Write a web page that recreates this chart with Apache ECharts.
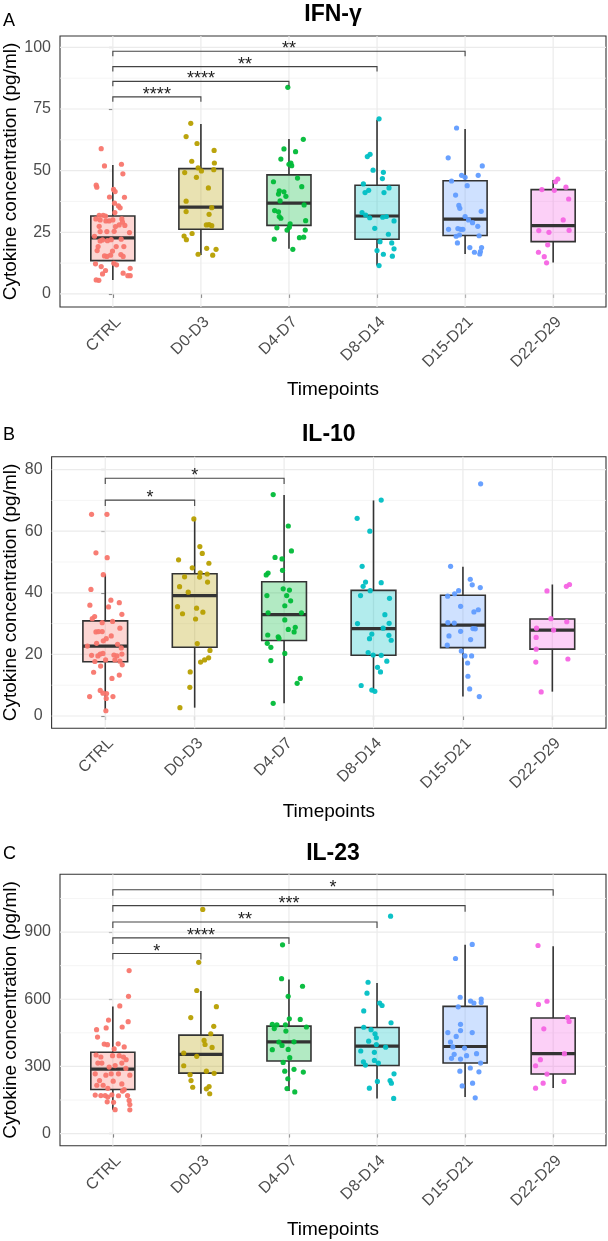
<!DOCTYPE html>
<html>
<head>
<meta charset="utf-8">
<script src="https://cdn.jsdelivr.net/npm/echarts@6/dist/echarts.min.js"></script>
<style>
  html, body { margin: 0; padding: 0; background: #fff; }
  #chart { width: 608px; height: 1241px; }
</style>
</head>
<body>
<div id="chart"></div>
<script>
// categories and colours (ggplot default hue palette)
const cats = ['CTRL', 'D0-D3', 'D4-D7', 'D8-D14', 'D15-D21', 'D22-D29']
const colors = ['#F8766D', '#B79F00', '#00BA38', '#00BFC4', '#619CFF', '#F564E3']

// ---- IFN-gamma ----
// box stats per group: [lower whisker, Q1, median, Q3, upper whisker]
const ifnBox = [
  [5.7, 13.5, 22.7, 31.6, 52.3],
  [15.8, 26.2, 35.2, 50.8, 68.9],
  [18.3, 27.8, 36.8, 48.3, 62.8],
  [11.5, 22.2, 31.6, 44.1, 70.6],
  [16.2, 23.7, 30.3, 45.9, 66.9],
  [12.7, 21.2, 27.7, 42.3, 46.2]
]
// jittered points per group: [jitter offset, value]
const ifnPts = [
  [[-0.132, 58.9], [-0.095, 51.9], [0.098, 52.6], [0.114, 48.7], [-0.189, 44.1], [-0.182, 43.3], [0.008, 42.4], [0.026, 41.5],
   [-0.038, 39.3], [0.132, 39.2], [0.019, 36.8], [0.064, 35.7], [0.083, 34.9], [0.023, 33.0], [-0.155, 31.9], [-0.110, 31.9],
   [-0.083, 31.6], [-0.193, 30.4], [-0.144, 30.0], [-0.079, 29.6], [-0.042, 29.6], [0, 30.0], [0.102, 30.4], [0.110, 29.1],
   [-0.155, 27.4], [0.030, 27.3], [0.072, 28.0], [0.136, 27.8], [-0.144, 25.3], [-0.068, 25.3], [0.015, 25.4], [0.189, 24.9],
   [-0.208, 23.4], [-0.117, 21.9], [-0.061, 21.6], [-0.019, 22.0], [0.095, 22.2], [-0.144, 21.5], [-0.167, 19.2], [0.038, 19.2],
   [0.125, 19.2], [-0.178, 17.6], [-0.004, 17.4], [0.091, 16.0], [-0.095, 15.4], [-0.068, 15.2], [0.117, 15.2], [-0.026, 15.7],
   [-0.197, 12.2], [0.011, 12.4], [-0.132, 11.1], [0.042, 11.8], [0.197, 10.4], [-0.083, 9.5], [-0.117, 8.1], [0.117, 8.4],
   [0.170, 7.4], [0.197, 7.4], [-0.189, 5.7], [-0.159, 5.5]],
  [[-0.115, 69.2], [-0.168, 63.8], [-0.044, 61.0], [0.150, 58.2], [-0.104, 53.8], [0.153, 53.1], [-0.032, 51.1], [0.006, 49.9],
   [0.146, 50.4], [-0.184, 49.2], [-0.051, 47.3], [0.085, 43.0], [-0.168, 37.6], [-0.168, 33.4], [0.123, 35.0], [0.093, 32.3],
   [0.062, 28.0], [0.093, 28.1], [0.123, 27.7], [-0.191, 23.5], [-0.100, 24.5], [-0.165, 22.0], [-0.032, 16.1], [0.066, 18.5],
   [0.172, 18.1], [0.134, 15.7]],
  [[-0.013, 83.8], [0.163, 62.7], [-0.057, 58.8], [0.075, 57.7], [-0.092, 54.7], [0.022, 53.1], [0, 52.6], [0.031, 52.0],
   [-0.176, 45.5], [0.097, 47.0], [0.145, 43.5], [-0.110, 41.8], [-0.057, 41.4], [-0.119, 40.5], [-0.035, 39.6], [-0.101, 37.7],
   [0.172, 36.1], [-0.163, 33.8], [-0.119, 33.3], [-0.110, 31.4], [-0.092, 30.7], [0.189, 29.7], [0.013, 28.4], [-0.137, 26.8],
   [-0.022, 25.9], [0.185, 25.9], [0.004, 27.0], [-0.167, 22.2], [0.119, 22.8], [0.167, 23.0], [0.044, 18.1]],
  [[0.023, 71.0], [-0.110, 55.7], [-0.079, 56.6], [-0.045, 50.2], [0.072, 49.3], [0.061, 46.8], [-0.155, 44.6], [-0.095, 42.0],
   [-0.136, 41.1], [0.079, 41.1], [0.136, 43.0], [-0.170, 33.0], [-0.129, 32.0], [-0.083, 30.9], [0.064, 31.1], [0.106, 31.4],
   [0.193, 29.6], [-0.026, 26.6], [0.129, 24.2], [0.034, 21.2], [0.167, 20.7], [0, 17.6], [0.193, 18.3], [0.072, 16.1],
   [0.174, 15.3], [0.023, 11.5]],
  [[-0.097, 67.3], [-0.192, 55.2], [0.195, 51.9], [-0.040, 48.1], [0, 47.3], [0.149, 48.1], [-0.154, 45.8], [0.024, 43.9],
   [-0.108, 40.1], [-0.071, 35.9], [-0.060, 34.7], [0.183, 33.5], [0, 31.4], [0.039, 30.0], [0.084, 28.9], [0.144, 27.4],
   [-0.188, 26.2], [-0.082, 26.5], [-0.051, 26.2], [-0.025, 26.2], [-0.102, 23.4], [-0.064, 23.9], [0.159, 23.6], [-0.087, 20.7],
   [0.054, 18.8], [0.187, 18.8], [0.106, 16.9], [0.167, 16.2], [0.174, 17.2]],
  [[0.053, 46.6], [0.026, 45.5], [-0.128, 42.3], [0.013, 42.0], [0.145, 43.3], [0.176, 38.5], [0.114, 30.0], [-0.163, 25.7],
   [-0.048, 25.0], [0.181, 25.8], [-0.062, 19.9], [-0.167, 16.9], [-0.101, 15.1], [-0.075, 12.6]]
]
const ifnTicks = [0, 25, 50, 75, 100]
const ifnMinor = [12.5, 37.5, 62.5, 87.5]
const ifnSigEnd = [1, 2, 3, 4]
const ifnSigY = [79.9, 86.2, 92.2, 98.4]
const ifnSigLab = ['****', '****', '**', '**']

// ---- IL-10 ----
const il10Box = [
  [1.9, 17.6, 22.7, 30.9, 46.0],
  [2.7, 22.3, 39.1, 46.2, 64.0],
  [4.1, 24.5, 32.9, 43.6, 71.8],
  [8.1, 19.7, 28.4, 40.8, 70.0],
  [6.3, 22.2, 29.5, 39.2, 48.5],
  [7.9, 21.7, 27.9, 31.5, 42.7]
]
const il10Pts = [
  [[-0.153, 65.5], [0.019, 65.5], [-0.104, 53.0], [0.022, 51.4], [-0.022, 45.9], [-0.160, 41.1], [-0.172, 36.0], [0.063, 37.6],
   [0.157, 36.8], [0.037, 35.4], [0.186, 33.0], [-0.119, 32.3], [-0.145, 31.6], [-0.034, 30.3], [0.082, 30.7], [0.164, 28.5],
   [-0.104, 27.3], [-0.075, 27.4], [-0.034, 27.4], [0.067, 26.0], [0.011, 25.1], [-0.022, 24.4], [-0.097, 23.6], [0.138, 23.3],
   [-0.200, 22.7], [0.179, 22.1], [-0.153, 19.7], [-0.082, 19.5], [-0.056, 20.1], [-0.026, 20.3], [0.097, 19.8], [0.131, 19.5],
   [0.186, 20.1], [-0.116, 17.7], [0.004, 18.2], [0.108, 18.2], [0.164, 17.8], [0.190, 16.6], [-0.052, 16.2], [-0.130, 14.2],
   [0.157, 13.3], [0.075, 12.2], [-0.056, 8.3], [-0.026, 7.4], [0.015, 7.3], [-0.175, 6.3], [0.086, 6.3], [0.011, 5.7],
   [0.007, 1.7]],
  [[-0.009, 64.0], [0.058, 55.0], [0.085, 52.8], [-0.180, 50.7], [0.159, 49.6], [-0.027, 48.1], [0.062, 46.5], [0.140, 46.1],
   [-0.113, 45.2], [0.055, 45.1], [0.144, 43.5], [-0.169, 42.0], [-0.072, 40.2], [-0.192, 35.5], [-0.136, 33.2], [0.021, 35.0],
   [0.092, 33.7], [0.010, 31.5], [0.029, 23.5], [0.171, 21.3], [0.156, 18.9], [0.111, 18.2], [0.066, 17.5], [-0.050, 14.3],
   [-0.054, 9.3], [-0.165, 2.7]],
  [[-0.122, 71.9], [0.047, 61.7], [0.082, 53.6], [-0.101, 51.5], [-0.023, 51.0], [-0.018, 47.3], [-0.179, 46.4], [-0.200, 45.8],
   [-0.010, 41.3], [0.060, 40.9], [-0.192, 39.1], [0.029, 39.1], [0.073, 37.4], [0.008, 35.8], [0.194, 33.5], [-0.179, 33.5],
   [0.008, 31.2], [0.125, 28.8], [0.047, 28.1], [0.112, 27.3], [-0.183, 26.3], [-0.066, 25.7], [-0.057, 25.2], [-0.188, 23.6],
   [-0.148, 22.3], [0.008, 20.3], [-0.148, 18.0], [0.181, 12.2], [0.146, 10.6], [-0.122, 4.1]],
  [[0.086, 70.1], [-0.183, 64.2], [-0.041, 60.0], [-0.127, 48.6], [-0.089, 43.5], [-0.116, 42.1], [-0.037, 40.7], [0.086, 43.3],
   [-0.145, 39.1], [0.179, 38.2], [0.127, 32.9], [-0.179, 30.0], [0.175, 30.1], [0.108, 28.5], [-0.019, 26.6], [0.172, 26.2],
   [-0.045, 25.1], [0.198, 24.6], [-0.060, 20.6], [-0.004, 19.8], [0.086, 19.7], [0.149, 17.8], [0.045, 15.8], [0.078, 14.3],
   [-0.138, 9.9], [-0.019, 8.4], [0.015, 8.0]],
  [[0.198, 75.4], [-0.138, 48.6], [0.082, 44.4], [0.104, 42.6], [0.194, 41.7], [-0.048, 40.7], [-0.093, 39.7], [-0.171, 38.9],
   [-0.026, 35.6], [0.172, 34.5], [0.123, 33.8], [-0.168, 30.3], [-0.097, 30.2], [-0.026, 27.5], [0.112, 28.4], [0.138, 28.3],
   [-0.156, 26.0], [0.086, 24.8], [-0.175, 23.0], [-0.018, 21.1], [0.023, 19.5], [0.097, 19.5], [0.052, 17.2], [0.056, 12.9],
   [0.075, 8.8], [0.183, 6.3]],
  [[0.192, 42.7], [0.157, 42.1], [-0.060, 40.6], [-0.016, 31.6], [0.161, 30.6], [-0.177, 28.5], [0.014, 27.9], [-0.181, 25.5],
   [-0.181, 21.7], [0.174, 18.5], [-0.185, 17.5], [-0.125, 7.8]]
]
const il10Ticks = [0, 20, 40, 60, 80]
const il10Minor = [10, 30, 50, 70]
const il10SigEnd = [1, 2]
const il10SigY = [70.1, 77.2]
const il10SigLab = ['*', '*']

// ---- IL-23 ----
const il23Box = [
  [107, 197, 288, 363, 568],
  [178, 270, 354, 440, 637],
  [190, 324, 410, 480, 688],
  [157, 304, 391, 474, 673],
  [163, 315, 389, 568, 843],
  [204, 266, 357, 516, 837]
]
const il23Pts = [
  [[0.185, 728], [0.178, 613], [0.079, 570], [-0.049, 507], [0.174, 500], [-0.185, 464], [-0.076, 472], [0.106, 476],
   [-0.174, 431], [-0.098, 400], [-0.061, 397], [0.061, 401], [0.129, 387], [0.015, 378], [-0.190, 351], [-0.136, 342],
   [-0.004, 348], [0.072, 348], [0.121, 342], [0.151, 330], [-0.170, 315], [-0.125, 315], [0.102, 315], [0.026, 304],
   [-0.042, 297], [0.148, 291], [-0.200, 267], [-0.079, 261], [-0.019, 267], [0.064, 267], [0.193, 261], [-0.151, 237],
   [0.004, 234], [0.102, 222], [-0.182, 216], [-0.110, 216], [-0.057, 202], [0.110, 190], [0.129, 196], [-0.200, 172],
   [-0.136, 170], [-0.087, 170], [-0.057, 163], [-0.011, 173], [0.064, 169], [0.167, 170], [0.185, 148], [-0.064, 142],
   [0.008, 140], [0.193, 130], [0.026, 107], [0.193, 106]],
  [[0.021, 1001], [-0.025, 765], [-0.047, 639], [0.176, 567], [-0.115, 518], [0.146, 479], [0.112, 446], [0.036, 416],
   [0.047, 398], [-0.195, 360], [-0.047, 345], [0.127, 385], [-0.195, 303], [0.062, 279], [0.150, 269], [-0.123, 263],
   [-0.112, 237], [0.093, 210], [0.062, 200], [-0.093, 207], [0.100, 178]],
  [[-0.073, 843], [-0.084, 692], [0.154, 658], [-0.009, 613], [0.128, 510], [0.004, 513], [-0.189, 488], [-0.137, 486],
   [-0.040, 486], [0.198, 476], [-0.167, 469], [-0.035, 458], [-0.114, 409], [0.057, 410], [-0.079, 394], [-0.009, 376],
   [-0.189, 375], [0.009, 339], [-0.066, 318], [0.057, 287], [-0.048, 279], [0.163, 275], [-0.013, 245], [-0.022, 201],
   [0.066, 186]],
  [[0.154, 971], [-0.102, 676], [-0.114, 627], [0.030, 583], [0.057, 572], [-0.151, 548], [0.159, 495], [-0.151, 475],
   [-0.068, 464], [-0.023, 446], [-0.008, 428], [-0.095, 413], [0.098, 386], [-0.008, 398], [-0.185, 369], [-0.030, 363],
   [-0.155, 321], [-0.030, 327], [-0.132, 306], [0.015, 315], [0.193, 267], [0.004, 233], [0.148, 237], [0.163, 225],
   [-0.087, 203], [0.189, 157]],
  [[0.081, 845], [-0.109, 782], [-0.056, 609], [0.062, 592], [0.100, 583], [0.183, 601], [0.183, 586], [-0.078, 566],
   [-0.052, 488], [-0.196, 451], [-0.101, 434], [-0.052, 460], [0.081, 451], [-0.166, 409], [-0.139, 387], [-0.006, 382],
   [0.017, 348], [0.130, 357], [-0.124, 354], [-0.154, 336], [-0.052, 333], [0.176, 315], [-0.059, 279], [0.059, 293],
   [0.157, 276], [-0.033, 213], [0.085, 225], [0.115, 160]],
  [[-0.172, 840], [-0.167, 577], [-0.070, 591], [0.163, 519], [0.181, 501], [-0.106, 468], [-0.145, 330], [-0.200, 303],
   [-0.070, 266], [0.128, 357], [-0.114, 225], [0.123, 233], [-0.200, 203]]
]
const il23Ticks = [0, 300, 600, 900]
const il23Minor = [150, 450, 750, 1050]
const il23SigEnd = [1, 2, 3, 4, 5]
const il23SigY = [804, 874, 945, 1018, 1089]
const il23SigLab = ['*', '****', '**', '***', '*']

const FONT = '"Liberation Sans", Arial, Helvetica, sans-serif'

const panels = [
  { title: 'IFN-γ', letter: 'A', grid: { left: 60, top: 36, width: 546, height: 271 }, yMin: -5.3, yMax: 104.6,
    ticks: ifnTicks, minor: ifnMinor, box: ifnBox, pts: ifnPts, sigEnd: ifnSigEnd, sigY: ifnSigY, sigLab: ifnSigLab, tip: 2,
    titleY: 14.5, letterY: 21.5, xTitleY: 389.5 },
  { title: 'IL-10', letter: 'B', grid: { left: 51.6, top: 456.7, width: 554.4, height: 271.6 }, yMin: -4.0, yMax: 84.2,
    ticks: il10Ticks, minor: il10Minor, box: il10Box, pts: il10Pts, sigEnd: il10SigEnd, sigY: il10SigY, sigLab: il10SigLab, tip: 1.9,
    titleY: 435, letterY: 435, xTitleY: 812 },
  { title: 'IL-23', letter: 'C', grid: { left: 60, top: 874.3, width: 546, height: 271.4 }, yMin: -54, yMax: 1158,
    ticks: il23Ticks, minor: il23Minor, box: il23Box, pts: il23Pts, sigEnd: il23SigEnd, sigY: il23SigY, sigLab: il23SigLab, tip: 27,
    titleY: 853.5, letterY: 853.7, xTitleY: 1229.7 }
]

function fade(hex, a) {
  const n = parseInt(hex.slice(1), 16)
  return `rgba(${n >> 16},${(n >> 8) & 255},${n & 255},${a})`
}

const grids = []
const xAxes = []
const yAxes = []
const series = []
const graphics = []

panels.forEach((p, pi) => {
  grids.push(Object.assign({ show: true, borderColor: '#333333', borderWidth: 1.1, backgroundColor: 'transparent' }, p.grid))
  xAxes.push({
    type: 'value', gridIndex: pi, min: -0.6, max: 5.6,
    axisLine: { show: false },
    splitLine: { show: false },
    axisTick: { show: true, customValues: [0, 1, 2, 3, 4, 5], length: 4, lineStyle: { color: '#333333', width: 1.1 } },
    axisLabel: {
      customValues: [0, 1, 2, 3, 4, 5], formatter: v => cats[Math.round(v)], rotate: 45, margin: 7,
      verticalAlign: 'top', fontSize: 16, color: '#4D4D4D', fontFamily: FONT
    }
  })
  yAxes.push({
    type: 'value', gridIndex: pi, min: p.yMin, max: p.yMax,
    axisLine: { show: false },
    splitLine: { show: false },
    axisTick: { show: true, customValues: p.ticks, length: 4, lineStyle: { color: '#333333', width: 1.1 } },
    axisLabel: { customValues: p.ticks, margin: 9, fontSize: 16, color: '#4D4D4D', fontFamily: FONT }
  })

  // background grid lines: [kind, value]; 0 = y major, 1 = y minor, 2 = x major
  const gridData = p.ticks.map(v => [0, v]).concat(p.minor.map(v => [1, v]), cats.map((c, i) => [2, i]))
  series.push({
    type: 'custom', xAxisIndex: pi, yAxisIndex: pi, silent: true, z: 1,
    data: gridData,
    renderItem: (params, api) => {
      const cs = params.coordSys
      const kind = api.value(0)
      const v = api.value(1)
      if (kind < 2) {
        const y = api.coord([0, v])[1]
        return { type: 'line', shape: { x1: cs.x, y1: y, x2: cs.x + cs.width, y2: y },
          style: { stroke: kind === 0 ? '#EBEBEB' : '#F3F3F3', lineWidth: kind === 0 ? 1.2 : 0.8 } }
      }
      const x = api.coord([v, 0])[0]
      return { type: 'line', shape: { x1: x, y1: cs.y, x2: x, y2: cs.y + cs.height },
        style: { stroke: '#EBEBEB', lineWidth: 1.2 } }
    }
  })

  // boxes
  series.push({
    type: 'custom', xAxisIndex: pi, yAxisIndex: pi, silent: true, z: 2,
    data: p.box.map((b, i) => [i].concat(b)),
    renderItem: (params, api) => {
      const i = api.value(0)
      const lo = api.value(1), q1 = api.value(2), med = api.value(3), q3 = api.value(4), hi = api.value(5)
      const tl = api.coord([i - 0.25, q3])
      const br = api.coord([i + 0.25, q1])
      const cx = api.coord([i, lo])[0]
      const yLo = api.coord([i, lo])[1]
      const yHi = api.coord([i, hi])[1]
      const yMed = api.coord([i, med])[1]
      const stroke = '#333333'
      return {
        type: 'group',
        children: [
          { type: 'line', shape: { x1: cx, y1: yLo, x2: cx, y2: br[1] }, style: { stroke, lineWidth: 1.6 } },
          { type: 'line', shape: { x1: cx, y1: tl[1], x2: cx, y2: yHi }, style: { stroke, lineWidth: 1.6 } },
          { type: 'rect', shape: { x: tl[0], y: tl[1], width: br[0] - tl[0], height: br[1] - tl[1] },
            style: { fill: fade(colors[params.dataIndex], 0.3), stroke, lineWidth: 1.6 } },
          { type: 'line', shape: { x1: tl[0], y1: yMed, x2: br[0], y2: yMed }, style: { stroke, lineWidth: 3.2 } }
        ]
      }
    }
  })

  // jittered points
  p.pts.forEach((grp, gi) => {
    series.push({
      type: 'scatter', xAxisIndex: pi, yAxisIndex: pi, silent: true, z: 3,
      symbol: 'circle', symbolSize: 5.2,
      itemStyle: { color: colors[gi], opacity: 0.95 },
      data: grp.map(d => [gi + d[0], d[1]])
    })
  })

  // significance brackets
  const tip = p.tip
  series.push({
    type: 'custom', xAxisIndex: pi, yAxisIndex: pi, silent: true, z: 4,
    data: p.sigEnd.map((e, k) => [e, p.sigY[k]]),
    renderItem: (params, api) => {
      const e = api.value(0)
      const y = api.value(1)
      const a = api.coord([0, y - tip])
      const b = api.coord([0, y])
      const c = api.coord([e, y])
      const d = api.coord([e, y - tip])
      return {
        type: 'group',
        children: [
          { type: 'polyline', shape: { points: [a, b, c, d] }, style: { stroke: '#444444', lineWidth: 1.1, fill: null } },
          { type: 'text', x: (b[0] + c[0]) / 2, y: b[1] - 2,
            style: { text: p.sigLab[params.dataIndex], font: '18px ' + FONT, fill: '#222222',
              textAlign: 'center', textVerticalAlign: 'middle' } }
        ]
      }
    }
  })

  const cx = p.grid.left + p.grid.width / 2
  graphics.push(
    { type: 'text', x: cx, y: p.titleY,
      style: { text: p.title, font: 'bold 23px ' + FONT, fill: '#000', textAlign: 'center', textVerticalAlign: 'middle' } },
    { type: 'text', x: 3, y: p.letterY,
      style: { text: p.letter, font: '18px ' + FONT, fill: '#000', textAlign: 'left', textVerticalAlign: 'middle' } },
    { type: 'text', x: cx, y: p.xTitleY,
      style: { text: 'Timepoints', font: '19px ' + FONT, fill: '#000', textAlign: 'center', textVerticalAlign: 'middle' } },
    { type: 'text', x: 10.5, y: p.grid.top + p.grid.height / 2, rotation: Math.PI / 2,
      style: { text: 'Cytokine concentration (pg/ml)', font: '19px ' + FONT, fill: '#000',
        textAlign: 'center', textVerticalAlign: 'middle' } }
  )
})

const chart = echarts.init(document.getElementById('chart'), null, { renderer: 'canvas' })
chart.setOption({
  animation: false,
  backgroundColor: '#ffffff',
  grid: grids,
  xAxis: xAxes,
  yAxis: yAxes,
  series: series,
  graphic: graphics
})
</script>
</body>
</html>
